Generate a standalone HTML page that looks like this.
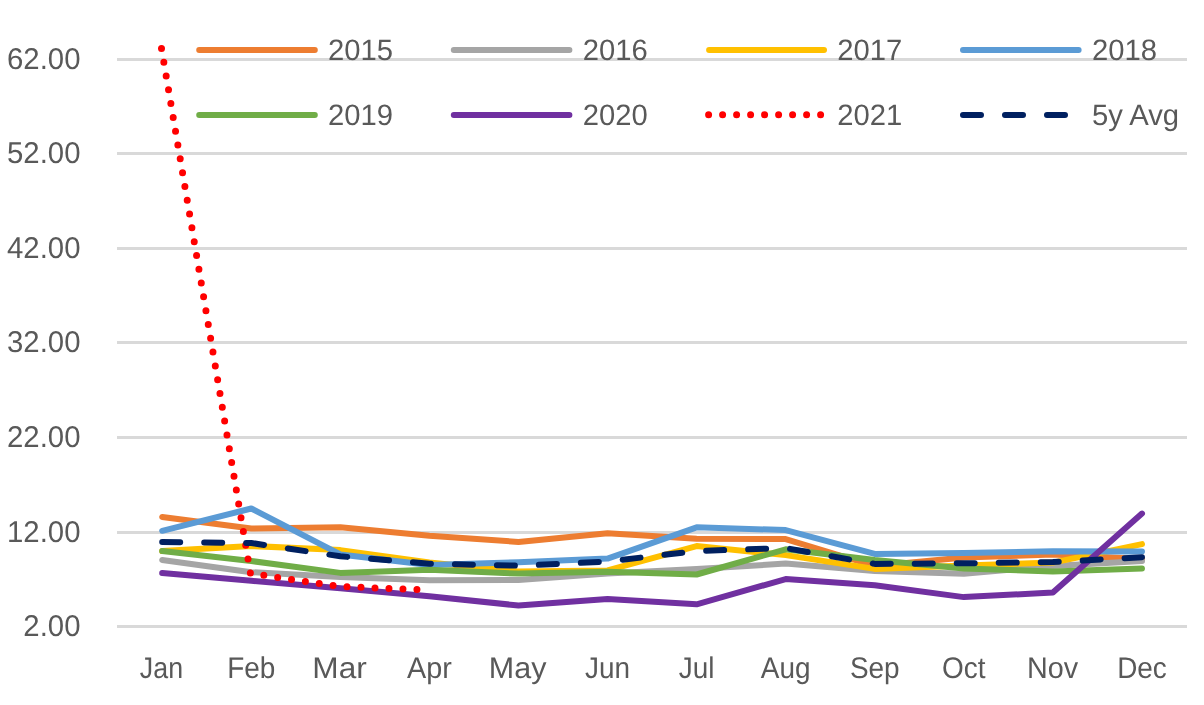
<!DOCTYPE html>
<html><head><meta charset="utf-8"><style>
html,body{margin:0;padding:0;background:#fff;width:1204px;height:705px;overflow:hidden}
svg{display:block;will-change:transform}
text{text-rendering:geometricPrecision;font-family:"Liberation Sans",sans-serif;font-size:28.5px;fill:#595959}
</style></head><body>
<svg width="1204" height="705" viewBox="0 0 1204 705">
<rect x="0" y="0" width="1204" height="705" fill="#ffffff"/>
<line x1="117" y1="59.5" x2="1187" y2="59.5" stroke="#d9d9d9" stroke-width="3"/>
<line x1="117" y1="153.5" x2="1187" y2="153.5" stroke="#d9d9d9" stroke-width="3"/>
<line x1="117" y1="248.5" x2="1187" y2="248.5" stroke="#d9d9d9" stroke-width="3"/>
<line x1="117" y1="342.5" x2="1187" y2="342.5" stroke="#d9d9d9" stroke-width="3"/>
<line x1="117" y1="437.5" x2="1187" y2="437.5" stroke="#d9d9d9" stroke-width="3"/>
<line x1="117" y1="532.5" x2="1187" y2="532.5" stroke="#d9d9d9" stroke-width="3"/>
<line x1="117" y1="626.5" x2="1187" y2="626.5" stroke="#d9d9d9" stroke-width="3"/>
<text transform="translate(80.5,68.80) scale(1.03,1.055)" text-anchor="end">62.00</text>
<text transform="translate(80.5,162.80) scale(1.03,1.055)" text-anchor="end">52.00</text>
<text transform="translate(80.5,257.80) scale(1.03,1.055)" text-anchor="end">42.00</text>
<text transform="translate(80.5,351.80) scale(1.03,1.055)" text-anchor="end">32.00</text>
<text transform="translate(80.5,446.80) scale(1.03,1.055)" text-anchor="end">22.00</text>
<text transform="translate(80.5,541.80) scale(1.03,1.055)" text-anchor="end">12.00</text>
<text transform="translate(80.5,635.80) scale(1.03,1.055)" text-anchor="end">2.00</text>
<text transform="translate(161.45,678.2) scale(0.94,1.05)" text-anchor="middle">Jan</text>
<text transform="translate(251.27,678.2) scale(0.98,1.05)" text-anchor="middle">Feb</text>
<text transform="translate(339.59,678.2) scale(1.11,1.05)" text-anchor="middle">Mar</text>
<text transform="translate(429.41,678.2) scale(1.01,1.05)" text-anchor="middle">Apr</text>
<text transform="translate(517.63,678.2) scale(1.07,1.05)" text-anchor="middle">May</text>
<text transform="translate(607.55,678.2) scale(0.98,1.05)" text-anchor="middle">Jun</text>
<text transform="translate(696.62,678.2) scale(0.98,1.05)" text-anchor="middle">Jul</text>
<text transform="translate(785.69,678.2) scale(0.98,1.05)" text-anchor="middle">Aug</text>
<text transform="translate(874.76,678.2) scale(0.98,1.05)" text-anchor="middle">Sep</text>
<text transform="translate(963.83,678.2) scale(0.98,1.05)" text-anchor="middle">Oct</text>
<text transform="translate(1052.55,678.2) scale(1.01,1.05)" text-anchor="middle">Nov</text>
<text transform="translate(1141.97,678.2) scale(0.98,1.05)" text-anchor="middle">Dec</text>
<polyline points="162.20,517.00 251.27,528.50 340.34,527.30 429.41,535.80 518.48,541.90 607.55,533.20 696.62,538.70 785.69,539.10 874.76,566.00 963.83,557.50 1052.90,554.50 1141.97,559.00" fill="none" stroke="#ED7D31" stroke-width="6.0" stroke-linejoin="round" stroke-linecap="round"/>
<polyline points="162.20,560.00 251.27,572.20 340.34,577.10 429.41,580.30 518.48,579.90 607.55,573.50 696.62,568.90 785.69,563.60 874.76,571.00 963.83,573.70 1052.90,565.90 1141.97,561.00" fill="none" stroke="#A5A5A5" stroke-width="6.0" stroke-linejoin="round" stroke-linecap="round"/>
<polyline points="162.20,551.00 251.27,546.00 340.34,550.10 429.41,562.50 518.48,571.50 607.55,570.40 696.62,546.10 785.69,555.10 874.76,568.90 963.83,565.50 1052.90,562.60 1141.97,544.10" fill="none" stroke="#FFC000" stroke-width="6.0" stroke-linejoin="round" stroke-linecap="round"/>
<polyline points="162.20,530.80 251.27,508.50 340.34,554.40 429.41,565.00 518.48,562.20 607.55,558.60 696.62,527.30 785.69,530.10 874.76,553.90 963.83,553.10 1052.90,551.20 1141.97,551.60" fill="none" stroke="#5B9BD5" stroke-width="6.0" stroke-linejoin="round" stroke-linecap="round"/>
<polyline points="162.20,551.00 251.27,561.00 340.34,572.90 429.41,569.70 518.48,573.60 607.55,571.80 696.62,574.50 785.69,549.30 874.76,560.00 963.83,568.50 1052.90,571.50 1141.97,568.50" fill="none" stroke="#70AD47" stroke-width="6.0" stroke-linejoin="round" stroke-linecap="round"/>
<polyline points="162.20,573.00 251.27,580.80 340.34,588.20 429.41,596.20 518.48,605.50 607.55,599.10 696.62,604.30 785.69,579.10 874.76,585.30 963.83,597.10 1052.90,592.60 1141.97,513.60" fill="none" stroke="#7030A0" stroke-width="6.0" stroke-linejoin="round" stroke-linecap="round"/>
<polyline points="161.50,48.40 250.45,573.40 339.40,586.50 428.40,590.00" fill="none" stroke="#FF0000" stroke-width="7" stroke-linejoin="round" stroke-linecap="round" stroke-dasharray="0 14"/>
<polyline points="162.20,542.00 251.27,543.00 340.34,556.30 429.41,563.70 518.48,565.70 607.55,561.50 696.62,551.00 785.69,548.10 874.76,563.90 963.83,563.30 1052.90,562.10 1141.97,557.20" fill="none" stroke="#002060" stroke-width="6.0" stroke-linejoin="round" stroke-linecap="round" stroke-dasharray="18 24" stroke-dashoffset="0"/>
<line x1="199.2" y1="50.0" x2="314.8" y2="50.0" stroke="#ED7D31" stroke-width="6.0" stroke-linecap="round"/>
<text transform="translate(328.10,59.5) scale(1.025,1.035)">2015</text>
<line x1="453.8" y1="50.0" x2="569.4" y2="50.0" stroke="#A5A5A5" stroke-width="6.0" stroke-linecap="round"/>
<text transform="translate(582.70,59.5) scale(1.025,1.035)">2016</text>
<line x1="709.1" y1="50.0" x2="824.0" y2="50.0" stroke="#FFC000" stroke-width="6.0" stroke-linecap="round"/>
<text transform="translate(837.30,59.5) scale(1.025,1.035)">2017</text>
<line x1="963.0" y1="50.0" x2="1078.6" y2="50.0" stroke="#5B9BD5" stroke-width="6.0" stroke-linecap="round"/>
<text transform="translate(1091.90,59.5) scale(1.025,1.035)">2018</text>
<line x1="199.2" y1="115.1" x2="314.8" y2="115.1" stroke="#70AD47" stroke-width="6.0" stroke-linecap="round"/>
<text transform="translate(328.10,124.6) scale(1.025,1.035)">2019</text>
<line x1="453.8" y1="115.1" x2="569.4" y2="115.1" stroke="#7030A0" stroke-width="6.0" stroke-linecap="round"/>
<text transform="translate(582.70,124.6) scale(1.025,1.035)">2020</text>
<line x1="708.6" y1="114.7" x2="821" y2="114.7" stroke="#FF0000" stroke-width="7" stroke-linecap="round" stroke-dasharray="0 14"/>
<text transform="translate(837.30,124.6) scale(1.025,1.035)">2021</text>
<line x1="963" y1="115.1" x2="1066" y2="115.1" stroke="#002060" stroke-width="6.0" stroke-linecap="round" stroke-dasharray="18 24"/>
<text transform="translate(1091.90,124.6) scale(1.025,1.035)">5y Avg</text>
</svg>
</body></html>
